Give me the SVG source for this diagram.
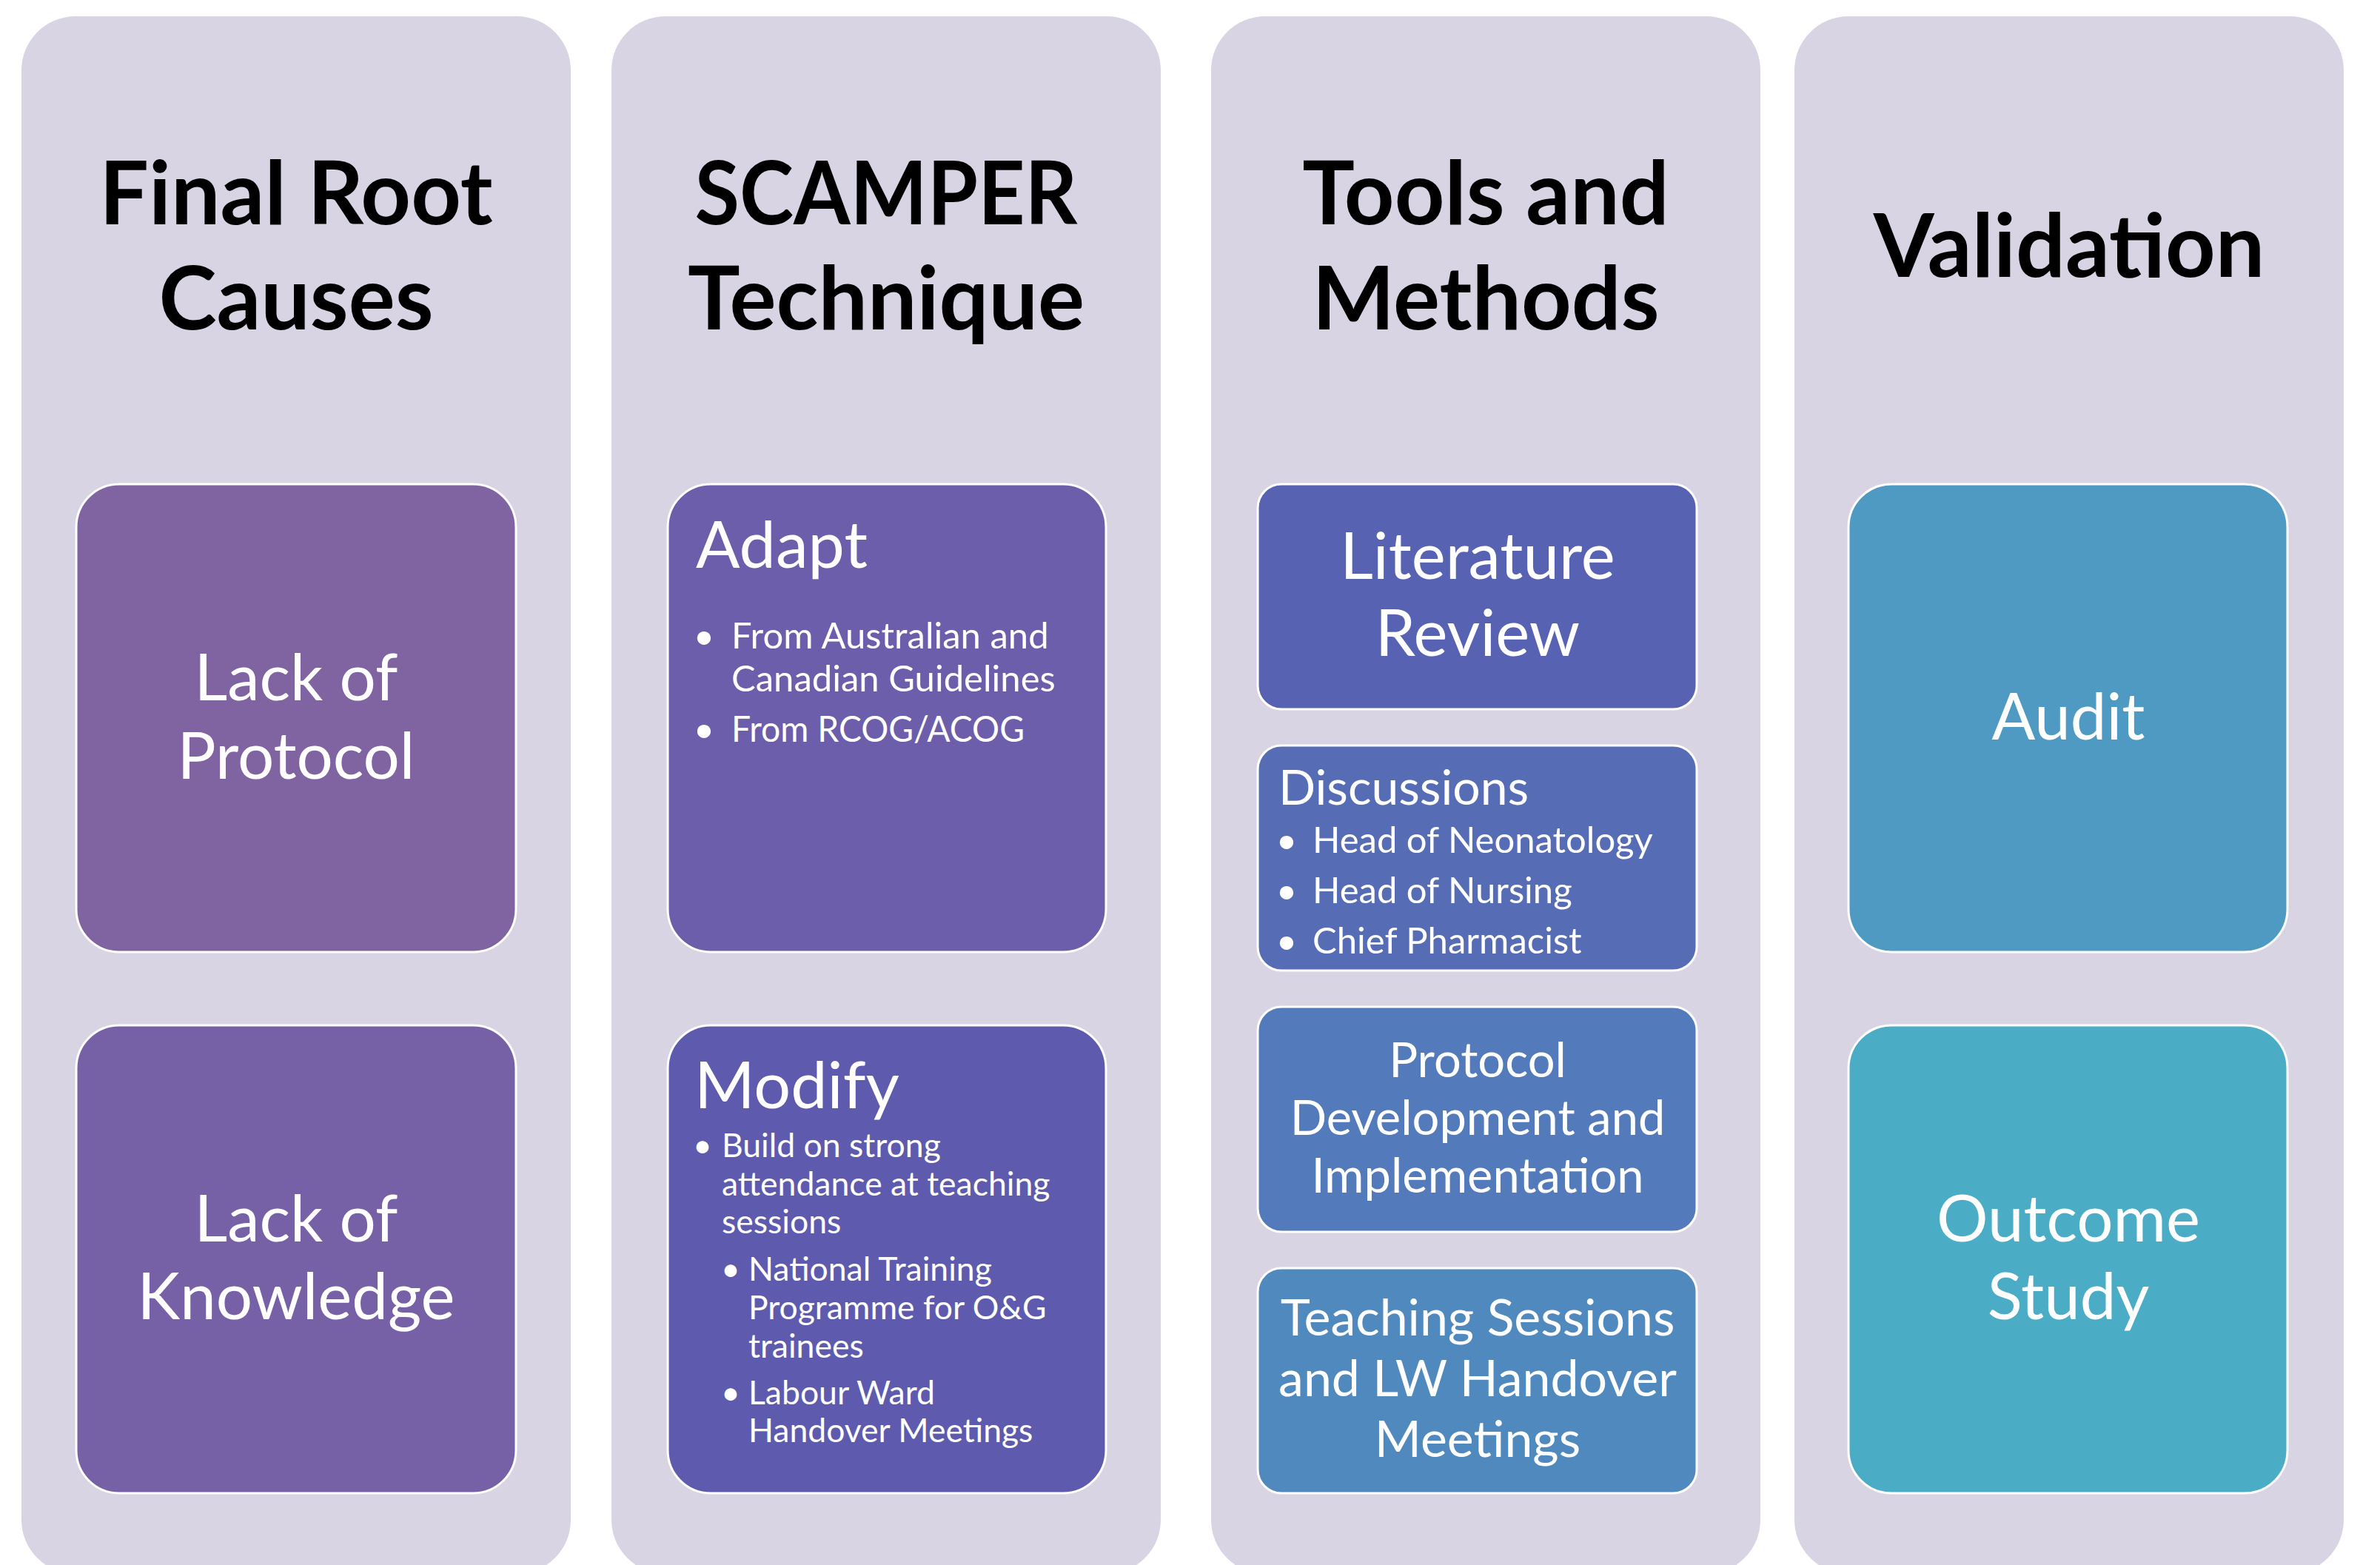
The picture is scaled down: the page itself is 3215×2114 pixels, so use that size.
<svg xmlns="http://www.w3.org/2000/svg" width="3215" height="2114" viewBox="0 0 3215 2114">
<style>
.bg{fill:#ffffff}
.col{fill:#D8D4E3}
.box{stroke:#ffffff;stroke-width:3}
text{font-family:Lato,"Liberation Sans",sans-serif;fill:#ffffff}
.title{font-weight:bold;font-size:118px;fill:#000000;text-anchor:middle}
.big{font-size:87px;text-anchor:middle}
.head{font-size:88px}
.b1{font-size:49px}
.b2{font-size:44.5px}
.dh{font-size:66px}
.db{font-size:49px}
.mid{font-size:65px;text-anchor:middle}
.mid2{font-size:68px;text-anchor:middle}
.dot{text-anchor:middle}
</style>
<rect class="bg" x="0" y="0" width="3215" height="2114"/>
<g id="connectors"></g>
<g id="col-final-root-causes">
<rect class="col" x="29" y="22" width="742" height="2104" rx="73"/>
<text class="title" x="400" y="303">Final Root</text>
<text class="title" x="400" y="445">Causes</text>
</g>
<g id="col-scamper">
<rect class="col" x="826" y="22" width="742" height="2104" rx="73"/>
<text class="title" x="1197" y="303" textLength="517" lengthAdjust="spacingAndGlyphs">SCAMPER</text>
<text class="title" x="1197" y="445">Technique</text>
</g>
<g id="col-tools">
<rect class="col" x="1636" y="22" width="742" height="2104" rx="73"/>
<text class="title" x="2007" y="303">Tools and</text>
<text class="title" x="2007" y="445">Methods</text>
</g>
<g id="col-validation">
<rect class="col" x="2424" y="22" width="742" height="2104" rx="73"/>
<text class="title" x="2795" y="374">Validation</text>
</g>
<g id="node-lack-protocol">
<rect class="box" x="103" y="654" width="594" height="632" rx="58" fill="#8064A2"/>
<text class="big" x="400" y="946">Lack of</text>
<text class="big" x="400" y="1052">Protocol</text>
</g>
<g id="node-lack-knowledge">
<rect class="box" x="103" y="1385" width="594" height="632" rx="58" fill="#7761A6"/>
<text class="big" x="400" y="1677">Lack of</text>
<text class="big" x="400" y="1782">Knowledge</text>
</g>
<g id="node-adapt">
<rect class="box" x="902" y="654" width="592" height="632" rx="58" fill="#6C5EAA"/>
<text class="head" x="940" y="767">Adapt</text>
<text class="b1 dot" x="951" y="876">•</text>
<text class="b1" x="988" y="876">From Australian and</text>
<text class="b1" x="988" y="934">Canadian Guidelines</text>
<text class="b1 dot" x="951" y="1002">•</text>
<text class="b1" x="988" y="1002" textLength="396" lengthAdjust="spacingAndGlyphs">From RCOG/ACOG</text>
</g>
<g id="node-modify">
<rect class="box" x="902" y="1385" width="592" height="632" rx="58" fill="#5E5BAE"/>
<text class="head" x="938" y="1497">Modify</text>
<text class="b2 dot" x="949" y="1563">•</text>
<text class="b2" x="975" y="1563">Build on strong</text>
<text class="b2" x="975" y="1615">attendance at teaching</text>
<text class="b2" x="975" y="1666">sessions</text>
<text class="b2 dot" x="987" y="1730">•</text>
<text class="b2" x="1011" y="1730">National Training</text>
<text class="b2" x="1011" y="1782">Programme for O&amp;G</text>
<text class="b2" x="1011" y="1834">trainees</text>
<text class="b2 dot" x="987" y="1897">•</text>
<text class="b2" x="1011" y="1897">Labour Ward</text>
<text class="b2" x="1011" y="1948">Handover Meetings</text>
</g>
<g id="node-literature">
<rect class="box" x="1699" y="654" width="593" height="304" rx="32" fill="#5862B2"/>
<text class="big" x="1996" y="782">Literature</text>
<text class="big" x="1996" y="886">Review</text>
</g>
<g id="node-discussions">
<rect class="box" x="1699" y="1007" width="593" height="304" rx="32" fill="#566DB6"/>
<text class="dh" x="1727" y="1087">Discussions</text>
<text class="db dot" x="1738" y="1152">•</text>
<text class="db" x="1773" y="1152">Head of Neonatology</text>
<text class="db dot" x="1738" y="1220">•</text>
<text class="db" x="1773" y="1220">Head of Nursing</text>
<text class="db dot" x="1738" y="1288">•</text>
<text class="db" x="1773" y="1288">Chief Pharmacist</text>
</g>
<g id="node-protocol-dev">
<rect class="box" x="1699" y="1360" width="593" height="304" rx="32" fill="#537ABA"/>
<text class="mid" x="1996" y="1455">Protocol</text>
<text class="mid" x="1996" y="1533">Development and</text>
<text class="mid" x="1996" y="1611">Implementation</text>
</g>
<g id="node-teaching">
<rect class="box" x="1699" y="1713" width="593" height="304" rx="32" fill="#5089BE"/>
<text class="mid2" x="1996" y="1804">Teaching Sessions</text>
<text class="mid2" x="1996" y="1886">and LW Handover</text>
<text class="mid2" x="1996" y="1968">Meetings</text>
</g>
<g id="node-audit">
<rect class="box" x="2497" y="654" width="593" height="632" rx="58" fill="#4E9AC2"/>
<text class="big" x="2794" y="999">Audit</text>
</g>
<g id="node-outcome">
<rect class="box" x="2497" y="1385" width="593" height="632" rx="58" fill="#4BACC6"/>
<text class="big" x="2794" y="1677">Outcome</text>
<text class="big" x="2794" y="1782">Study</text>
</g>
</svg>
